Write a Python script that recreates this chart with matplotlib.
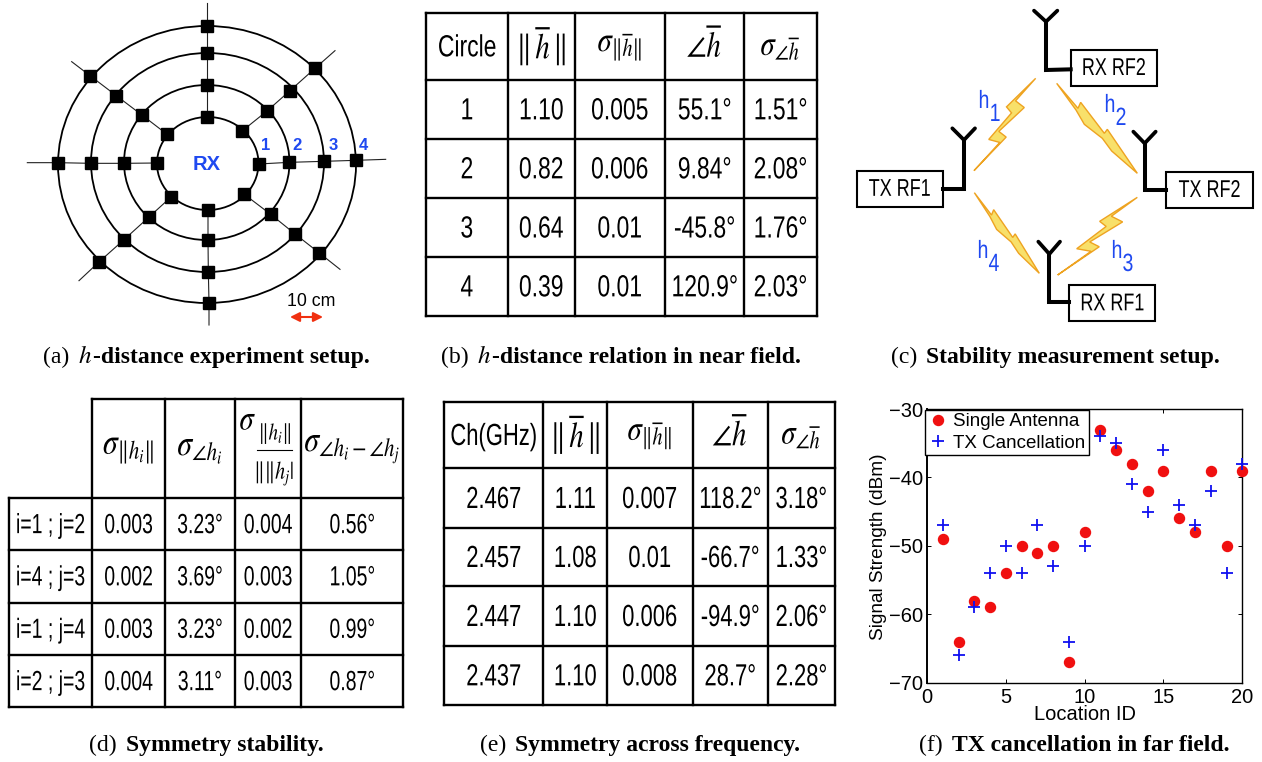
import matplotlib
matplotlib.use("Agg")
from matplotlib import pyplot as plt
from matplotlib.patches import Ellipse, Polygon, Rectangle
from matplotlib.patheffects import AbstractPathEffect
from matplotlib.text import Text
from matplotlib.transforms import Affine2D, Bbox
import numpy as np

plt.rcParams['font.family'] = ['Liberation Sans', 'DejaVu Sans']
plt.rcParams['mathtext.fontset'] = 'stix'

SERIF = ['Liberation Serif', 'DejaVu Serif']
BLUE = '#1f49f0'

# panel (f) values
location_id = [1, 2, 3, 4, 5, 6, 7, 8, 9, 10, 11, 12, 13, 14, 15, 16, 17, 18, 19, 20]
single_antenna = [-49, -64, -58, -59, -54, -50, -51, -50, -67, -48, -33, -36, -38, -42, -39, -46, -48, -39, -50, -39]
tx_cancellation = [-47, -66, -59, -54, -50, -54, -47, -53, -64, -50, -34, -35, -41, -45, -36, -44, -47, -42, -54, -38]
f_xticks = [0, 5, 10, 15, 20]
f_yticks = [-70, -60, -50, -40, -30]

# table (b)
b_header = ['Circle', r'$\|\,\overline{h}\,\|$', r'$\sigma_{\|\overline{h}\|}$', r'$\angle\overline{h}$',
            r'$\sigma_{\angle\overline{h}}$']
b_circle = ['1', '2', '3', '4']
b_norm = ['1.10', '0.82', '0.64', '0.39']
b_norm_std = ['0.005', '0.006', '0.01', '0.01']
b_angle = ['55.1°', '9.84°', '-45.8°', '120.9°']
b_angle_std = ['1.51°', '2.08°', '1.76°', '2.03°']

# table (d)
d_header = ['', r'$\sigma_{\|h_i\|}$', r'$\sigma_{\angle h_i}$', '', r'$\sigma_{\angle h_i - \angle h_j}$']
d_pair = ['i=1 ; j=2', 'i=4 ; j=3', 'i=1 ; j=4', 'i=2 ; j=3']
d_norm_std = ['0.003', '0.002', '0.003', '0.004']
d_angle_std = ['3.23°', '3.69°', '3.23°', '3.11°']
d_ratio_std = ['0.004', '0.003', '0.002', '0.003']
d_diff_std = ['0.56°', '1.05°', '0.99°', '0.87°']

# table (e)
e_header = ['Ch(GHz)', r'$\|\,\overline{h}\,\|$', r'$\sigma_{\|\overline{h}\|}$', r'$\angle\overline{h}$',
            r'$\sigma_{\angle\overline{h}}$']
e_channel = ['2.467', '2.457', '2.447', '2.437']
e_norm = ['1.11', '1.08', '1.10', '1.10']
e_norm_std = ['0.007', '0.01', '0.006', '0.008']
e_angle = ['118.2°', '-66.7°', '-94.9°', '28.7°']
e_angle_std = ['3.18°', '1.33°', '2.06°', '2.28°']

# rings of the setup sketch, as left, right, top, bottom in pixels
ring_left = [157, 124, 91, 58]
ring_right = [258.5, 289.5, 324, 356]
ring_top = [117, 85, 53, 26]
ring_bottom = [210, 240, 272, 303]

# sensor squares per spoke, inner ring first, in 3x zoom pixels
spokes = [
    [(622, 351), (622, 254), (622, 158), (622, 78), (622, 10)],
    [(624, 630), (624, 720), (625, 815), (627, 908), (627, 975)],
    [(471, 489), (371, 490), (274, 490), (174, 488), (82, 488)],
    [(776, 492), (868, 487), (972, 484), (1067, 481), (1157, 478)],
    [(725, 394), (801, 333), (870, 272), (945, 205), (1005, 152)],
    [(500, 402), (427, 346), (349, 287), (270, 227), (215, 185)],
    [(733, 583), (812, 643), (884, 701), (958, 759), (1020, 808)],
    [(512, 592), (446, 652), (372, 719), (298, 785), (237, 842)],
]

# lightning outlines, zoomed pixels of one bolt of each direction
bolt_up = [(212, 25), (125, 110), (140, 128), (72, 207), (105, 216), (28, 300),
           (124, 200), (102, 183), (178, 112), (152, 92)]
bolt_down = [(20, 25), (84, 100), (92, 82), (163, 175), (172, 163), (262, 295),
             (185, 228), (157, 190), (103, 148), (78, 105)]


class Squeeze(AbstractPathEffect):
    # the paper's table text is condensed, squash the glyphs around their middle
    def __init__(self, sx):
        super().__init__()
        self.sx = sx

    def draw_path(self, renderer, gc, tpath, affine, rgbFace=None):
        box = tpath.get_extents(affine)
        cx = (box.x0 + box.x1) / 2
        squash = Affine2D().translate(-cx, 0).scale(self.sx, 1).translate(cx, 0)
        renderer.draw_path(gc, tpath, affine + squash, rgbFace)


class NarrowText(Text):
    def __init__(self, x, y, s, sx=0.75, **kwargs):
        super().__init__(x, y, s, clip_on=False, **kwargs)
        self.sx = sx
        self.set_path_effects([Squeeze(sx)])

    def get_window_extent(self, renderer=None, dpi=None):
        box = super().get_window_extent(renderer, dpi)
        cx = (box.x0 + box.x1) / 2
        half = box.width * self.sx / 2
        return Bbox.from_extents(cx - half, box.y0, cx + half, box.y1)


def narrow(ax, x, y, s, sx=0.75, **kwargs):
    kwargs.setdefault('ha', 'center')
    kwargs.setdefault('va', 'center')
    return ax.add_artist(NarrowText(x, y, s, sx=sx, **kwargs))


def table(ax, xs, ys, columns, header, fs, sx, math_fs, skip_corner=False):
    for x in xs:
        top = ys[1] if skip_corner and x == xs[0] else ys[0]
        ax.plot([x, x], [top, ys[-1]], color='k', lw=1.7, solid_capstyle='projecting')
    for y in ys:
        left = xs[1] if skip_corner and y == ys[0] else xs[0]
        ax.plot([left, xs[-1]], [y, y], color='k', lw=1.7, solid_capstyle='projecting')
    for c in range(len(xs) - 1):
        xc = (xs[c] + xs[c + 1]) / 2
        if header[c].startswith('$'):
            narrow(ax, xc, (ys[0] + ys[1]) / 2 - 1, header[c], sx=0.8, fontsize=math_fs)
        elif header[c]:
            narrow(ax, xc, (ys[0] + ys[1]) / 2 + 2, header[c], sx=sx, fontsize=fs)
        for r in range(len(ys) - 2):
            narrow(ax, xc, (ys[r + 1] + ys[r + 2]) / 2 + 2, columns[c][r], sx=sx, fontsize=fs)


def caption(ax, xc, y, tag, bold, math_h=False):
    r = ax.figure.canvas.get_renderer()
    parts = [ax.text(0, y, tag, fontsize=17, family=SERIF, va='baseline')]
    if math_h:
        parts.append(ax.text(0, y, '$h$', fontsize=18, va='baseline'))
    parts.append(ax.text(0, y, bold, fontsize=17, family=SERIF, weight='bold', va='baseline'))
    widths = [p.get_window_extent(r).width for p in parts]
    gaps = [9] + [1] * (len(parts) - 2) + [0]
    x = xc - (sum(widths) + sum(gaps)) / 2
    for p, w, g in zip(parts, widths, gaps):
        p.set_x(x)
        x += w + g


def bolt(ax, outline, top, bottom):
    pts = np.array(outline, dtype=float)
    p0 = pts[0]
    p1 = pts[5]
    top = np.array(top) / 3.0 + (840, 0)
    bottom = np.array(bottom) / 3.0 + (840, 0)
    xy = top + (pts - p0) / (p1 - p0) * (bottom - top)
    ax.add_patch(Polygon(xy, closed=True, fc='#f8e06a', ec='#eea321', lw=1.0, joinstyle='miter'))


def radio(ax, box, line, arm_l, arm_r, label):
    box = np.array(box) / 3.0 + (840, 0, 840, 0)
    ax.add_patch(Rectangle((box[0], box[1]), box[2] - box[0], box[3] - box[1],
                           fc='white', ec='k', lw=1.5))
    narrow(ax, (box[0] + box[2]) / 2, (box[1] + box[3]) / 2 + 1, label, sx=0.74, fontsize=17.5)
    line = np.array(line) / 3.0 + (840, 0)
    ax.plot(line[:, 0], line[:, 1], color='k', lw=2.9, solid_joinstyle='miter')
    tip = line[-1]
    for arm in (arm_l, arm_r):
        end = np.array(arm) / 3.0 + (840, 0)
        ax.plot([tip[0], end[0]], [tip[1], end[1]], color='k', lw=2.7, solid_capstyle='round')


def sketch_rings(ax):
    for s in spokes:
        xy = np.array(s) / 3.0
        ax.plot(xy[:, 0], xy[:, 1], color='#222222', lw=0.8, zorder=1)
    for i in range(4):
        ax.add_patch(Ellipse(((ring_left[i] + ring_right[i]) / 2, (ring_top[i] + ring_bottom[i]) / 2),
                             ring_right[i] - ring_left[i], ring_bottom[i] - ring_top[i],
                             fc='none', ec='k', lw=1.3, zorder=2))
    for s in spokes:
        xy = np.array(s[:4]) / 3.0
        ax.plot(xy[:, 0], xy[:, 1], ls='none', marker='s', ms=9.3, color='k', zorder=3)
    ax.text(207, 164, 'RX', color=BLUE, fontsize=14.5, weight='bold', ha='center', va='center')
    for lab, x in zip(['1', '2', '3', '4'], [266, 297, 333, 363]):
        ax.text(x, 145, lab, color=BLUE, fontsize=12, weight='bold', ha='center', va='center')
    ax.text(311, 301, '10 cm', fontsize=12.8, ha='center', va='center')
    ax.annotate('', xy=(290, 317), xytext=(323, 317),
                arrowprops=dict(arrowstyle='<|-|>', color='#f03010', lw=1.5, mutation_scale=14,
                                shrinkA=0, shrinkB=0))


def stability(ax):
    radio(ax, (692, 150, 950, 258), [(692, 208), (618, 210), (618, 65)], (582, 32), (652, 32), 'RX RF2')
    radio(ax, (50, 513, 308, 620), [(308, 566), (372, 566), (372, 420)], (337, 385), (405, 385), 'TX RF1')
    radio(ax, (979, 516, 1238, 624), [(979, 571), (914, 571), (914, 430)], (880, 395), (947, 395), 'TX RF2')
    radio(ax, (688, 856, 945, 964), [(688, 906), (628, 906), (628, 762)], (595, 725), (660, 725), 'RX RF1')
    bolt(ax, bolt_up, (587, 235), (402, 512))
    bolt(ax, bolt_down, (650, 250), (892, 520))
    bolt(ax, bolt_up, (892, 592), (653, 825))
    bolt(ax, bolt_down, (403, 578), (598, 820))
    for x, y, n in [(984, 101, '1'), (1110, 105, '2'), (1117, 251, '3'), (983, 251, '4')]:
        narrow(ax, x, y, 'h', sx=0.78, color=BLUE, fontsize=18)
        narrow(ax, x + 11, y + 13, n, sx=0.78, color=BLUE, fontsize=18)


def scatter_panel(fig):
    ax = fig.add_axes([927 / 1262, 1 - 682.7 / 762, 315.3 / 1262, 273.7 / 762])
    ax.plot(location_id, single_antenna, ls='none', marker='o', ms=7.2, color='#f01010',
            label='Single Antenna', clip_on=False, zorder=3)
    ax.plot(location_id, tx_cancellation, ls='none', marker='+', ms=8.5, mew=1.3, color='#1010f0',
            label='TX Cancellation', clip_on=False, zorder=4)
    ax.set_xlim(0, 20)
    ax.set_ylim(-70, -30)
    ax.set_xticks(f_xticks)
    ax.set_yticks(f_yticks)
    ax.tick_params(direction='in', length=3, width=0.7, labelsize=14.5, top=True, right=True)
    ax.tick_params(axis='x', pad=4)
    ax.tick_params(axis='y', pad=3)
    for side in ax.spines:
        ax.spines[side].set_linewidth(1.0)
    ax.spines['left'].set_linewidth(1.4)
    ax.set_xlabel('Location ID', fontsize=14.5, va='center')
    ax.set_ylabel('Signal Strength (dBm)', fontsize=13.7, va='center')
    ax.xaxis.set_label_coords(0.5, -0.118)
    ax.yaxis.set_label_coords(-0.155, 0.496)
    leg = ax.legend(loc='upper left', bbox_to_anchor=(-0.006, 0.998), fontsize=13.5, fancybox=False,
                    framealpha=1, edgecolor='k', borderaxespad=0, borderpad=0.2, labelspacing=0.22,
                    handletextpad=0.3, handlelength=1.0, numpoints=1)
    leg.get_frame().set_linewidth(1.0)
    leg.set_zorder(5)


def main():
    fig = plt.figure(figsize=(12.62, 7.62), dpi=100)
    fig.canvas.draw()
    ax = fig.add_axes([0, 0, 1, 1])
    ax.set_xlim(0, 1262)
    ax.set_ylim(762, 0)
    ax.axis('off')

    sketch_rings(ax)

    xs = [426, 507.7, 574.7, 665, 744.3, 816.7]
    ys = [12.7, 80, 138.7, 198, 257, 315.7]
    table(ax, xs, ys, [b_circle, b_norm, b_norm_std, b_angle, b_angle_std], b_header, 22, 0.75, 26)

    stability(ax)

    xs = [9, 92.3, 165, 235, 301.3, 403.3]
    ys = [399.3, 498.3, 550, 602.7, 655, 707.3]
    table(ax, xs, ys, [d_pair, d_norm_std, d_angle_std, d_ratio_std, d_diff_std], d_header, 20, 0.7, 27,
          skip_corner=True)
    # the ratio header does not fit as a plain subscript
    narrow(ax, 248, 420, r'$\sigma$', sx=0.8, fontsize=26)
    narrow(ax, 275, 433, r'$\|h_i\|$', sx=0.8, fontsize=17)
    ax.plot([257, 292], [450, 450], color='k', lw=0.8)
    narrow(ax, 274, 473, r'$\|\|h_j|$', sx=0.8, fontsize=18)

    xs = [444, 543.3, 607, 692.7, 767.7, 835]
    ys = [401.7, 468.3, 527.7, 586.3, 645.7, 705]
    table(ax, xs, ys, [e_channel, e_norm, e_norm_std, e_angle, e_angle_std], e_header, 22, 0.72, 26)

    caption(ax, 206, 363, '(a)', '-distance experiment setup.', True)
    caption(ax, 621, 363, '(b)', '-distance relation in near field.', True)
    caption(ax, 1055, 363, '(c)', 'Stability measurement setup.')
    caption(ax, 206, 751, '(d)', 'Symmetry stability.')
    caption(ax, 640, 751, '(e)', 'Symmetry across frequency.')
    caption(ax, 1074, 751, '(f)', 'TX cancellation in far field.')

    scatter_panel(fig)
    fig.savefig('out.png', dpi=100)


if __name__ == '__main__':
    main()
